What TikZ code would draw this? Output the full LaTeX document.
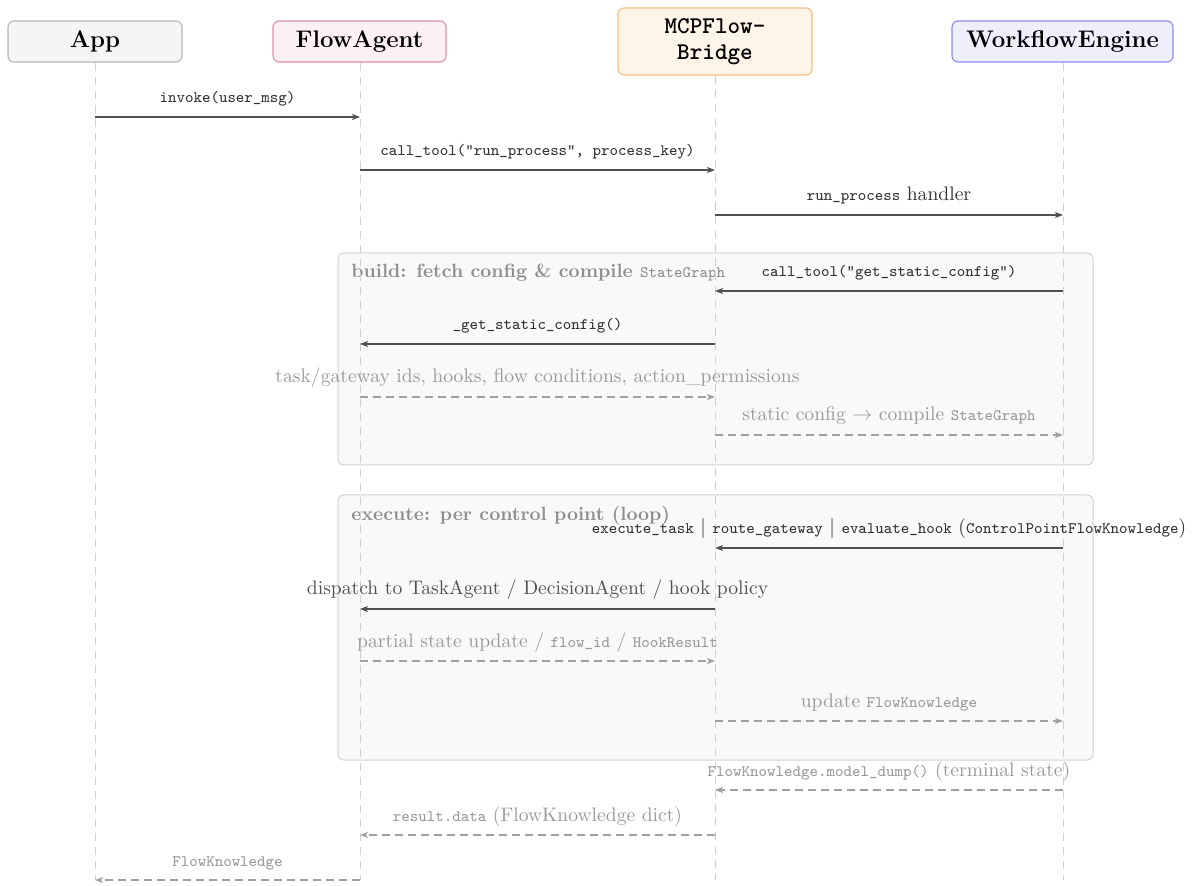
\documentclass[tikz,border=0pt]{standalone}
\usetikzlibrary{arrows.meta}
\definecolor{appfill}{HTML}{F5F5F5}\definecolor{appdraw}{HTML}{B5B5B5}
\definecolor{fafill}{HTML}{FCF0F5}\definecolor{fadraw}{HTML}{E38AAA}
\definecolor{mcpfill}{HTML}{FFF4E8}\definecolor{mcpdraw}{HTML}{F5BD80}
\definecolor{wefill}{HTML}{EFEFFC}\definecolor{wedraw}{HTML}{8C8CF0}
\definecolor{lifec}{HTML}{CFCFCF}
\definecolor{solidc}{HTML}{505050}
\definecolor{dashc}{HTML}{A0A0A0}
\definecolor{labc}{HTML}{333333}
\definecolor{dlabc}{HTML}{999999}
\definecolor{grpfill}{HTML}{F9F9F9}\definecolor{grpdraw}{HTML}{D2D2D2}
\definecolor{grptxt}{HTML}{8E8E8E}
\begin{document}
\begin{tikzpicture}[x=0.5pt,y=-0.5pt,
  hdr/.style={draw, rounded corners=3pt, line width=0.55pt, minimum height=20.5pt, inner sep=0pt, font=\large\bfseries, align=center},
  life/.style={lifec, line width=0.5pt, dash pattern=on 4pt off 3pt},
  grp/.style={draw=grpdraw, fill=grpfill, rounded corners=3pt, line width=0.5pt},
  grptitle/.style={anchor=base west, inner sep=0pt, text=grptxt, font=\fontsize{9.6pt}{11pt}\selectfont\bfseries},
  msg/.style={solidc, line width=0.7pt, -{Stealth[length=4pt,width=3pt,inset=1pt]}},
  ret/.style={dashc, line width=0.7pt, dash pattern=on 4pt off 2.5pt, -{Stealth[length=4pt,width=3pt,inset=1pt]}},
  lab/.style={anchor=base, inner sep=0pt, yshift=7pt, text=labc, font=\fontsize{9.8pt}{12pt}\selectfont},
  dlab/.style={anchor=base, inner sep=0pt, yshift=7pt, text=dlabc, font=\fontsize{9.8pt}{12pt}\selectfont},
  mono/.style={font=\ttfamily\footnotesize}
]
\useasboundingbox (0,0) rectangle (1193,886);

% groups
\path[grp] (338,253) rectangle (1093,465);
\node[grptitle] (gbuild) at (351,278) {build: fetch config \& compile {\mdseries\ttfamily\footnotesize StateGraph}};
\path[grp] (338,495) rectangle (1093,760);
\node[grptitle] (gexec) at (351,521) {execute: per control point (loop)};

% headers
\node[hdr, fill=appfill, draw=appdraw, minimum width=87pt] (app) at (95,41.5) {App};
\node[hdr, fill=fafill, draw=fadraw, minimum width=86.5pt] (fa) at (359.5,41.5) {FlowAgent};
\node[hdr, fill=mcpfill, draw=mcpdraw, minimum width=97pt, minimum height=33.5pt, font=\large\ttfamily\bfseries] (mcp) at (715,41.5) {MCPFlow-\\[-1pt]Bridge};
\node[hdr, fill=wefill, draw=wedraw, minimum width=110.5pt] (we) at (1062.5,41.5) {WorkflowEngine};

% lifeline ends
\coordinate (appE) at (95,880);
\coordinate (faE) at (360,880);
\coordinate (mcpE) at (715,880);
\coordinate (weE) at (1063,880);
\draw[life] (app.south) -- (appE);
\draw[life] (fa.south -| faE) -- (faE);
\draw[life] (mcp.south) -- (mcpE);
\draw[life] (we.south -| weE) -- (weE);

% message rows
\foreach \i/\y in {1/117,2/170,3/215,4/291,5/344,6/397,7/435,8/548,9/609,10/661,11/721,12/790,13/835,14/880}{
  \coordinate (A\i) at (95,\y);
  \coordinate (F\i) at (360,\y);
  \coordinate (M\i) at (715,\y);
  \coordinate (W\i) at (1063,\y);
}

\draw[msg] (A1) -- node[lab, mono] {invoke(user\_msg)} (F1);
\draw[msg] (F2) -- node[lab, mono] {call\_tool("run\_process", process\_key)} (M2);
\draw[msg] (M3) -- node[lab] {{\ttfamily\footnotesize run\_process} handler} (W3);
\draw[msg] (W4) -- node[lab, mono] {call\_tool("get\_static\_config")} (M4);
\draw[msg] (M5) -- node[lab, mono] {\_get\_static\_config()} (F5);
\draw[ret] (F6) -- node[dlab] {task/gateway ids, hooks, flow conditions, action\_permissions} (M6);
\draw[ret] (M7) -- node[dlab] {static config $\rightarrow$ compile {\ttfamily\footnotesize StateGraph}} (W7);
\draw[msg] (W8) -- node[lab] {{\ttfamily\footnotesize execute\_task} $|$ {\ttfamily\footnotesize route\_gateway} $|$ {\ttfamily\footnotesize evaluate\_hook} ({\ttfamily\footnotesize ControlPointFlowKnowledge})} (M8);
\draw[msg] (M9) -- node[lab, text=solidc] {dispatch to TaskAgent / DecisionAgent / hook policy} (F9);
\draw[ret] (F10) -- node[dlab] {partial state update / {\ttfamily\footnotesize flow\_id} / {\ttfamily\footnotesize HookResult}} (M10);
\draw[ret] (M11) -- node[dlab] {update {\ttfamily\footnotesize FlowKnowledge}} (W11);
\draw[ret] (W12) -- node[dlab] {{\ttfamily\footnotesize FlowKnowledge.model\_dump()} (terminal state)} (M12);
\draw[ret] (M13) -- node[dlab] {{\ttfamily\footnotesize result.data} (FlowKnowledge dict)} (F13);
\draw[ret] (F14) -- node[dlab, mono] {FlowKnowledge} (A14);
\end{tikzpicture}
\end{document}
